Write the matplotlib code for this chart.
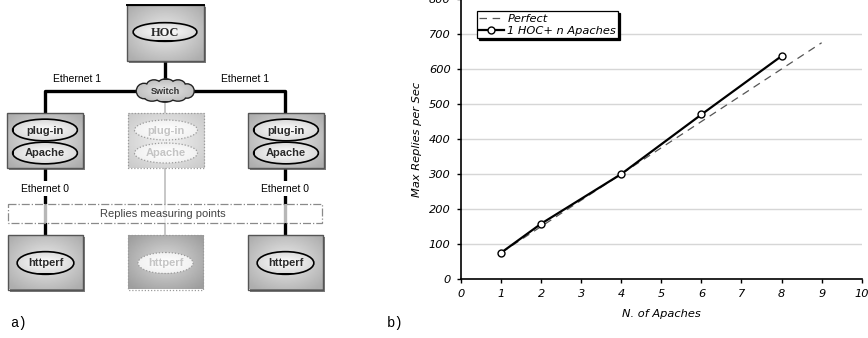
import matplotlib
matplotlib.use('Agg')
import matplotlib.pyplot as plt
from matplotlib.patches import Rectangle, Ellipse
import numpy as np

# panel b) data
apaches = [1, 2, 4, 6, 8]
replies = [75, 158, 300, 470, 637]
perfect_x = [1, 9]
perfect_y = [75, 675]
x_ticks = list(range(0, 11))
y_ticks = list(range(0, 801, 100))

# panel a) texts
eth1_label = 'Ethernet 1'
eth0_label = 'Ethernet 0'
measure_label = 'Replies measuring points'
server_labels = ['plug-in', 'Apache']
client_label = 'httperf'

W, H = 868, 338
fig = plt.figure(figsize=(W / 100, H / 100), dpi=100)

# ---------- diagram (pixel coords) ----------
dax = fig.add_axes([0, 0, 1, 1])
dax.axis('off')

yy, xx = np.mgrid[-1:1:60j, -1:1:60j]
rad = np.clip(np.sqrt(xx ** 2 + yy ** 2) / 1.3, 0, 1)


def gradient(patch, ext, lo, hi, z):
    im = dax.imshow(hi - (hi - lo) * rad, cmap='gray', vmin=0, vmax=1,
                    extent=ext, aspect='auto', zorder=z, interpolation='bilinear')
    im.set_clip_path(patch)


def box(x0, y0, x1, y1, faded=False, lo=0.68, hi=0.92):
    w, h = x1 - x0, y1 - y0
    if faded:
        r = Rectangle((x0, y0), w, h, fc='none', ec='#9a9a9a', lw=0.9, ls=(0, (1, 1.5)), zorder=4)
    else:
        dax.add_patch(Rectangle((x0 + 2, y0 + 2), w, h, fc='#444', ec='none', alpha=0.7, zorder=2))
        r = Rectangle((x0, y0), w, h, fc='none', ec='#555', lw=1.0, zorder=4)
    dax.add_patch(r)
    gradient(r, (x0, x1, y1, y0), lo, hi, 3)


def ellipses(specs, faded=False, font='Liberation Sans', weight='bold', size=8):
    for cx, cy, w, h, txt in specs:
        if faded:
            e = Ellipse((cx, cy), w, h, fc='none', ec='#9a9a9a', lw=0.9, ls=(0, (1, 1.5)), zorder=6)
            dax.add_patch(e)
            gradient(e, (cx - w / 2, cx + w / 2, cy + h / 2, cy - h / 2), 0.93, 1.0, 5)
        else:
            dax.add_patch(Ellipse((cx, cy), w, h, fc='none', ec='black', lw=2.4, zorder=5))
            e = Ellipse((cx, cy), w, h, fc='none', ec='none', zorder=6)
            dax.add_patch(e)
            gradient(e, (cx - w / 2, cx + w / 2, cy + h / 2, cy - h / 2), 0.82, 1.0, 6)
    for cx, cy, w, h, txt in specs:
        dax.text(cx, cy + 0.5, txt, ha='center', va='center', fontsize=size, family=font,
                 weight=weight, color='#c4c4c4' if faded else '#2a2a2a', zorder=8)


# connection lines
lw_link = 2.4
dax.plot([165, 165], [61, 86], color='black', lw=lw_link, zorder=1, solid_capstyle='butt')
dax.plot([45, 45, 150], [113, 90.5, 90.5], color='black', lw=lw_link, zorder=1)
dax.plot([180, 285, 285], [90.5, 90.5, 113], color='black', lw=lw_link, zorder=1)
dax.plot([45, 45], [168, 235], color='black', lw=lw_link, zorder=1)
dax.plot([285, 285], [168, 235], color='black', lw=lw_link, zorder=1)
dax.plot([165, 165], [100, 235], color='#bdbdbd', lw=1.2, zorder=1)

# HOC
box(127, 4.5, 204, 61)
dax.plot([127, 204], [4.5, 4.5], color='black', lw=1.4, zorder=5)
ellipses([(165, 32, 62, 17, 'HOC')], font='Liberation Serif', size=9)

# switch cloud
bumps = [(144, 91, 14, 14), (154, 86, 14, 11), (166, 85, 16, 11), (178, 86, 14, 11),
         (187, 91, 13, 13), (178, 96, 15, 9), (165, 97, 18, 9), (152, 96, 15, 9), (165, 91, 40, 14)]
for cx, cy, w, h in bumps:
    dax.add_patch(Ellipse((cx, cy), w, h, fc='none', ec='#222', lw=2.0, zorder=5))
for cx, cy, w, h in bumps:
    e = Ellipse((cx, cy), w, h, fc='none', ec='none', zorder=6)
    dax.add_patch(e)
    gradient(e, (137, 194, 101, 80), 0.72, 0.9, 6)
dax.text(165, 91.5, 'Switch', ha='center', va='center', fontsize=6.5, family='Liberation Sans',
         weight='bold', color='#333', zorder=8)

# labels on links
dax.text(77, 84, eth1_label, ha='center', va='bottom', fontsize=7.5, family='Liberation Sans', zorder=8)
dax.text(245, 84, eth1_label, ha='center', va='bottom', fontsize=7.5, family='Liberation Sans', zorder=8)
for cx in [45, 285]:
    dax.text(cx, 188.5, eth0_label, ha='center', va='center', fontsize=7.5, family='Liberation Sans',
             zorder=8, bbox=dict(fc='white', ec='none', pad=1.5))

# server boxes
for x0, faded in [(6.5, False), (127.5, True), (247.5, False)]:
    box(x0, 113, x0 + 76.5, 168, faded=faded, lo=0.80 if faded else 0.68, hi=0.95 if faded else 0.92)
    cx = x0 + 38.5
    ellipses([(cx, 130, 63, 20, server_labels[0]), (cx, 153, 63, 20, server_labels[1])], faded=faded)

# measuring strip
dax.add_patch(Rectangle((7.5, 204), 314, 18.5, fc='white', alpha=0.72, ec='none', zorder=9))
dax.add_patch(Rectangle((7.5, 204), 314, 18.5, fc='none', ec='#8a8a8a', lw=0.9, ls='-.', zorder=10))
dax.text(163, 214, measure_label, ha='center', va='center', fontsize=8, family='Liberation Sans',
         color='#444', zorder=11)

# client boxes
for x0, faded in [(7.5, False), (127.5, True), (247.5, False)]:
    box(x0, 234.5, x0 + 75.5, 289.5, faded=faded, lo=0.62 if faded else 0.68, hi=0.86 if faded else 0.92)
    ellipses([(x0 + 38, 263, 55, 21, client_label)], faded=faded)

dax.text(10, 323, 'a)', ha='left', va='center', fontsize=10, family='Liberation Mono')
dax.text(387, 323, 'b)', ha='left', va='center', fontsize=10, family='Liberation Mono')

dax.set_xlim(0, W)
dax.set_ylim(H, 0)

# ---------- chart ----------
fs = 8.2
ax = fig.add_axes([461 / W, 59 / H, 400.7 / W, 280 / H])
ax.plot(perfect_x, perfect_y, ls=(0, (6, 4.5)), color='#555', lw=0.9, label='Perfect')
ax.plot(apaches, replies, color='black', lw=1.6, marker='o', ms=5, mfc='white', mec='black',
        mew=1.0, label='1 HOC+ n Apaches')
ax.set_xlim(0, 10)
ax.set_ylim(0, 800)
ax.set_xticks(x_ticks)
ax.set_yticks(y_ticks)
ax.grid(axis='y', color='#d6d6d6', lw=1)
ax.set_axisbelow(True)
ax.patch.set_alpha(0)
for s in ['top', 'right']:
    ax.spines[s].set_visible(False)
for s in ['left', 'bottom']:
    ax.spines[s].set_linewidth(1.2)
ax.tick_params(length=3, width=1, labelsize=fs, pad=4.5)
for lab in ax.get_xticklabels() + ax.get_yticklabels():
    lab.set_style('italic')
ax.set_xlabel('N. of Apaches', fontsize=fs, style='italic', labelpad=7)
ax.set_ylabel('Max Replies per Sec', fontsize=fs, style='italic', labelpad=5)
ax.legend(loc='upper left', bbox_to_anchor=(0.039, 0.956), prop={'style': 'italic', 'size': fs},
          frameon=True, fancybox=False, edgecolor='black', framealpha=1,
          shadow={'color': 'black', 'alpha': 1.0, 'ox': 1.5, 'oy': -1.5},
          handlelength=2.2, handletextpad=0.3, borderpad=0.2, labelspacing=0.2, borderaxespad=0)
ax.get_legend().get_frame().set_linewidth(0.9)

plt.savefig('out.png', dpi=100)
